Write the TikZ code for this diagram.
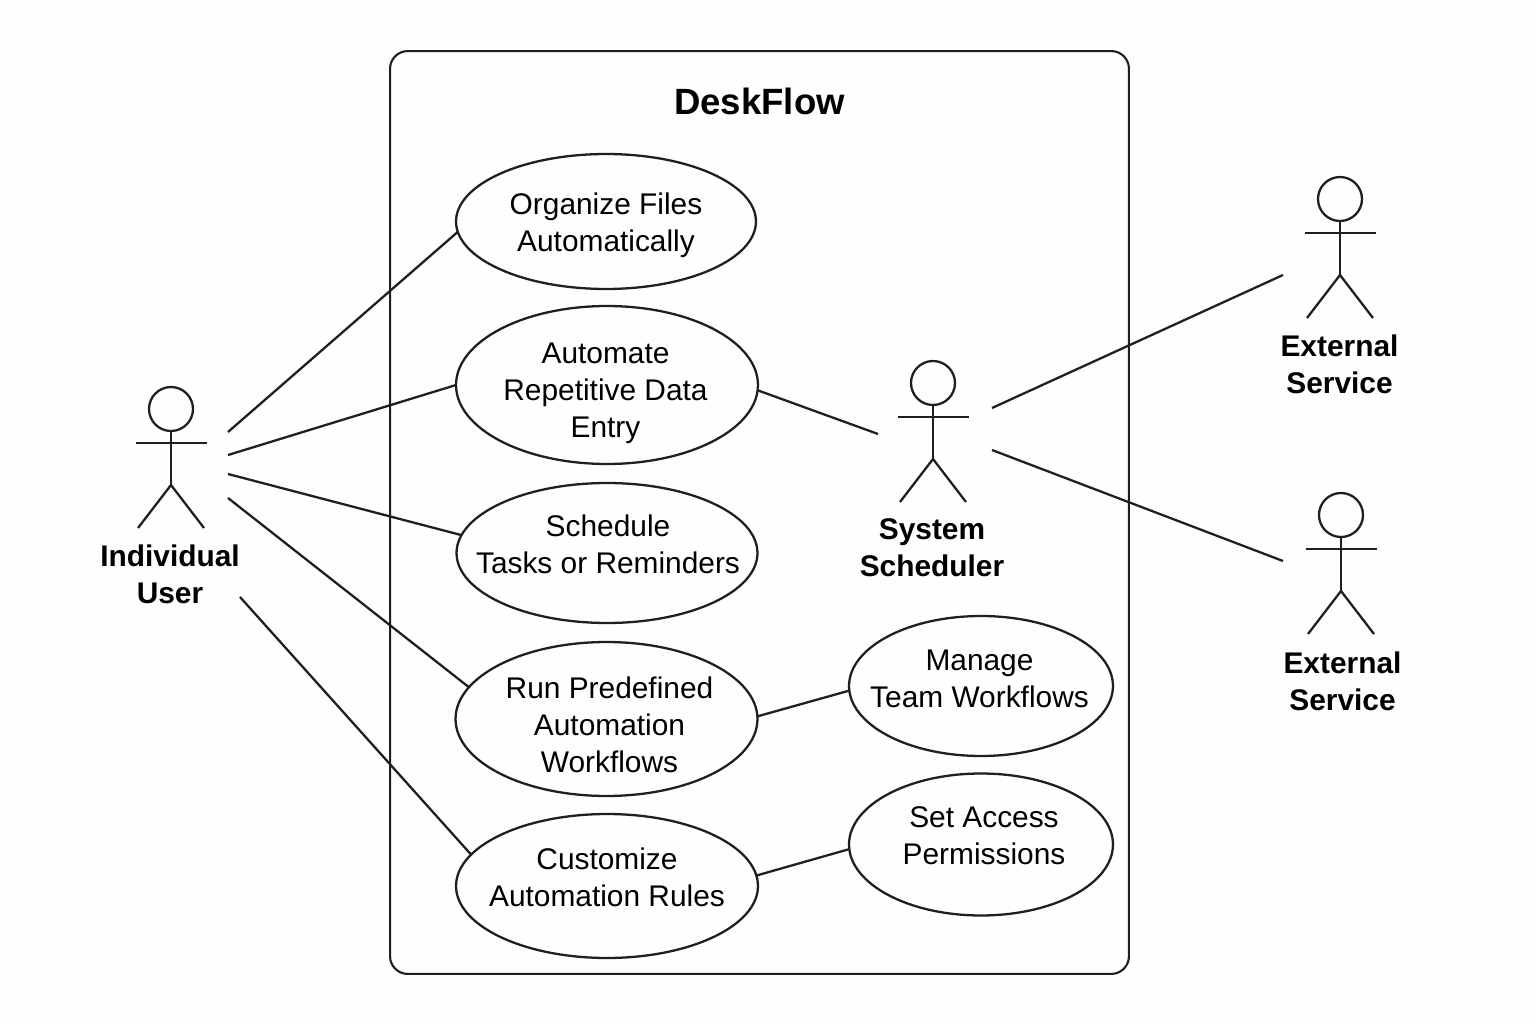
\documentclass[tikz,border=0pt]{standalone}
\usepackage{fontspec}
\setmainfont{Liberation Sans}
\usetikzlibrary{shapes.geometric}

\definecolor{inkline}{gray}{0.12}
\definecolor{paper}{gray}{0.995}

\tikzset{
    usecase/.style={ellipse,draw=inkline,line width=1.3pt,inner sep=0pt,outer sep=0pt},
    casetext/.style={align=center,font=\fontsize{17}{21}\selectfont},
    actorname/.style={align=center,font=\fontsize{17}{21}\selectfont\bfseries},
    boxtitle/.style={font=\fontsize{20.8}{25}\selectfont\bfseries},
    link/.style={draw=inkline,line width=1.3pt},
    actor/.pic={
        \draw[link] (0,0) circle (22);      % Head
        \draw[link] (0,22) -- (0,76);       % Body
        \draw[link] (-35.5,34) -- (35.5,34);    % Arms
        \draw[link] (-33,119) -- (0,76) -- (33,119); % Legs
    }
}

\begin{document}
\begin{tikzpicture}[x=0.02cm,y=-0.02cm]
    \useasboundingbox (0,0) rectangle (1536,1024);
    \fill[paper] (0,0) rectangle (1536,1024);

    % System boundary
    \node[draw=inkline,line width=1.2pt,rounded corners=10,minimum width=14.78cm,minimum height=18.46cm,
        inner sep=0pt,outer sep=0pt] (boundary) at (759.5,512.5) {};
    \node[boxtitle] (title) at (759.5,101) {DeskFlow};

    % Use cases
    \node[usecase,minimum width=6.00cm,minimum height=2.70cm] (organize) at (606,221.5) {};
    \node[usecase,minimum width=6.04cm,minimum height=3.16cm] (automate) at (607,385) {};
    \node[usecase,minimum width=6.02cm,minimum height=2.80cm] (schedule) at (607,553) {};
    \node[usecase,minimum width=6.04cm,minimum height=3.08cm] (run) at (606.5,719) {};
    \node[usecase,minimum width=6.04cm,minimum height=2.88cm] (customize) at (607,886) {};
    \node[usecase,minimum width=5.28cm,minimum height=2.80cm] (manage) at (981,686) {};
    \node[usecase,minimum width=5.28cm,minimum height=2.84cm] (access) at (981,844.5) {};

    % Use case texts
    \node[casetext] (organizetext) at (606,225) {Organize Files\\Automatically};
    \node[casetext] (automatetext) at (605.5,393) {Automate\\Repetitive Data\\Entry};
    \node[casetext] (scheduletext) at (608,544.5) {Schedule\\Tasks or Reminders};
    \node[casetext] (runtext) at (609.5,725) {Run Predefined\\Automation\\Workflows};
    \node[casetext] (customizetext) at (607,877) {Customize\\Automation Rules};
    \node[casetext] (managetext) at (979.5,678.5) {Manage\\Team Workflows};
    \node[casetext] (accesstext) at (984,835.5) {Set Access\\Permissions};

    % Actors
    \pic (user) at (171,409) {actor};
    \pic (scheduler) at (933,383) {actor};
    \pic (serviceone) at (1340,199) {actor};
    \pic (servicetwo) at (1341,515) {actor};
    \node[actorname] (username) at (170,574) {Individual\\User};
    \node[actorname] (schedulername) at (932,548) {System\\Scheduler};
    \node[actorname] (serviceonename) at (1339.5,364) {External\\Service};
    \node[actorname] (servicetwoname) at (1342.5,681.5) {External\\Service};

    % Free ends of the connectors
    \coordinate (usera) at (228,432);
    \coordinate (userb) at (228,455);
    \coordinate (userc) at (228,474);
    \coordinate (userd) at (228,498);
    \coordinate (usere) at (240,597);
    \coordinate (schedin) at (878,434);
    \coordinate (schedouta) at (992,408);
    \coordinate (schedoutb) at (992,450);
    \coordinate (serviceonein) at (1283,275);
    \coordinate (servicetwoin) at (1283,561);

    % Connectors
    \draw[link] (usera) -- (organize.184);
    \draw[link] (userb) -- (automate.west);
    \draw[link] (userc) -- (schedule.173.5);
    \draw[link] (userd) -- (run.167.5);
    \draw[link] (usere) -- (customize.167);
    \draw[link] (automate.358) -- (schedin);
    \draw[link] (run.1) -- (manage.182);
    \draw[link] (customize.4) -- (access.182);
    \draw[link] (schedouta) -- (serviceonein);
    \draw[link] (schedoutb) -- (servicetwoin);
\end{tikzpicture}
\end{document}
